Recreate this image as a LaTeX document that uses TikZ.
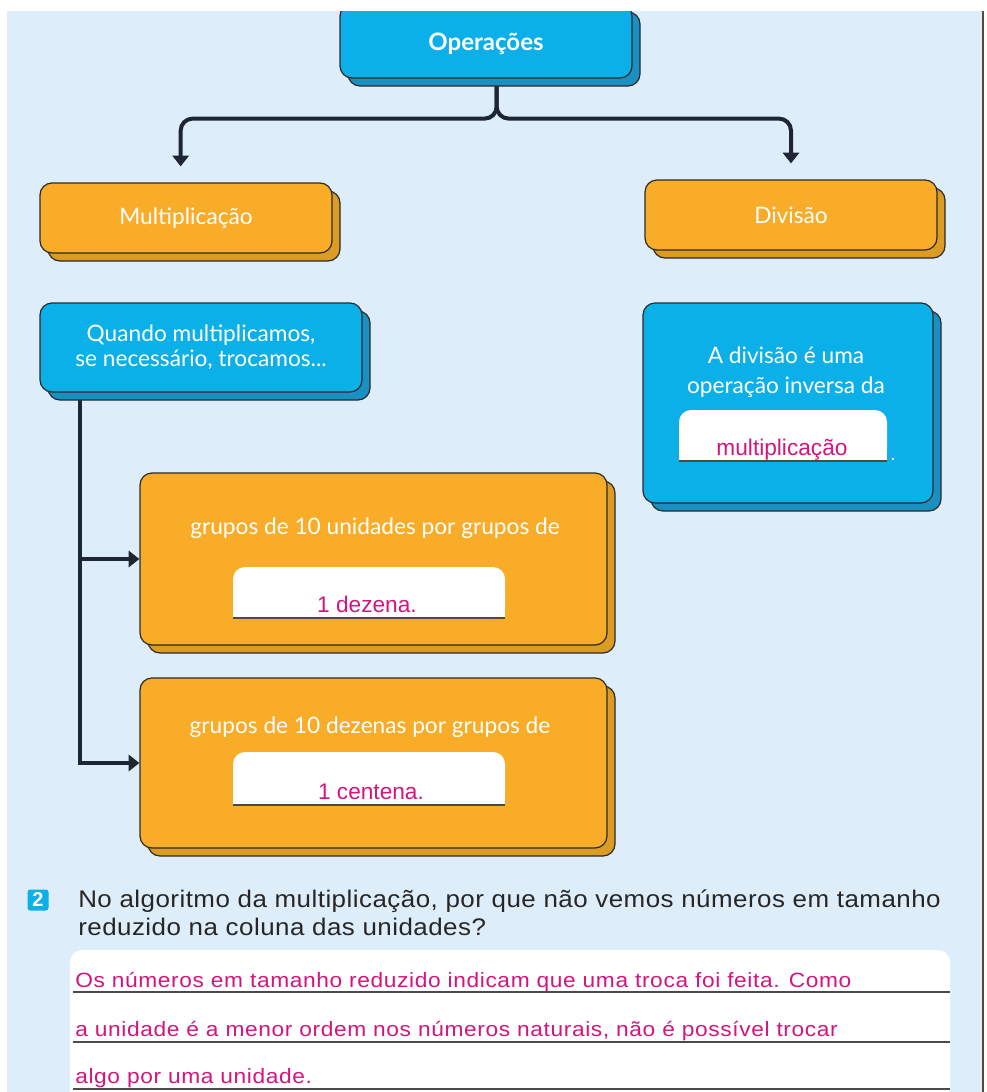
\documentclass[tikz,border=0pt]{standalone}
\usepackage{fontspec}
\setmainfont{Lato}
\newfontfamily\questfont[FakeStretch=1.08, LetterSpace=2]{Liberation Sans}
\newfontfamily\answerfont[FakeStretch=1.1, LetterSpace=3]{Liberation Sans}
\newfontfamily\fieldfont{Liberation Sans}
\usetikzlibrary{arrows.meta,shadows,positioning}

\definecolor{pagebg}{HTML}{DDEEFA}
\definecolor{cyanbox}{HTML}{0CB0E8}
\definecolor{cyanshade}{HTML}{1A8FC2}
\definecolor{orangebox}{HTML}{F8AC28}
\definecolor{orangeshade}{HTML}{DC9B22}
\definecolor{edge}{HTML}{2B2A2A}
\definecolor{linkline}{HTML}{1E2633}
\definecolor{answerpink}{HTML}{D3157E}
\definecolor{rulegray}{HTML}{4A4A4A}
\definecolor{framebrown}{HTML}{5B4A2E}

\pgfdeclarelayer{back}
\pgfdeclarelayer{links}
\pgfsetlayers{back,links,main}

\tikzset{
  bluebox/.style={draw=edge, line width=0.9pt, fill=cyanbox, rounded corners=9pt,
    text=white, font=\fontsize{17}{19}\selectfont,
    copy shadow={shadow xshift=6pt, shadow yshift=-6pt, fill=cyanshade, draw=edge}},
  orangebox/.style={draw=edge, line width=0.9pt, fill=orangebox, rounded corners=9pt,
    text=white, font=\fontsize{17}{19}\selectfont,
    copy shadow={shadow xshift=6pt, shadow yshift=-6pt, fill=orangeshade, draw=edge}},
  boxtext/.style={text=white, font=\fontsize{17}{22.5}\selectfont, align=center},
  fieldtext/.style={text=answerpink, font=\fieldfont\fontsize{17}{19}\selectfont, anchor=base},
  link/.style={draw=linkline, line width=3pt, -{Triangle[width=12pt,length=8pt]}},
  answerline/.style={text=answerpink, font=\answerfont\fontsize{15.5}{17}\selectfont,
    anchor=base west, inner sep=0pt}
}

\begin{document}
\begin{tikzpicture}[x=0.75pt, y=-0.75pt]
  \useasboundingbox (0,0) rectangle (986,1092);

  % page
  \begin{pgfonlayer}{back}
    \fill[pagebg] (7,0) rectangle (983,1092);
    \draw[framebrown, line width=1.5pt] (983,11) -- (983,1092);
  \end{pgfonlayer}

  % boxes
  \node[bluebox, minimum width=219pt, minimum height=55.5pt, text height=13.5pt, text depth=0pt,
    font=\fontsize{18}{20}\selectfont\bfseries] (ops) at (486,41) {Operações};
  \node[orangebox, minimum width=219pt, minimum height=52.5pt] (mult) at (186,218) {Multiplicação};
  \node[orangebox, minimum width=219pt, minimum height=52.5pt] (div) at (791,215) {Divisão};
  \node[bluebox, minimum width=241.5pt, minimum height=66.75pt, align=center,
    font=\fontsize{17}{18.75}\selectfont] (quando) at (201,347.5)
    {Quando multiplicamos,\\se necessário, trocamos...};
  \node[bluebox, minimum width=217.5pt, minimum height=150pt] (inversa) at (788,403) {};
  \node[orangebox, minimum width=350.25pt, minimum height=129pt] (dezena) at (373.5,559) {};
  \node[orangebox, minimum width=350.25pt, minimum height=127.5pt] (centena) at (373.5,763) {};

  % texts inside
  \node[boxtext] (invtxt) at (786,372) {A divisão é uma\\operação inversa da};
  \node[boxtext] (dztxt) at (375,528) {grupos de 10 unidades por grupos de};
  \node[boxtext] (cttxt) at (370,727) {grupos de 10 dezenas por grupos de};

  % white fields
  \fill[white, rounded corners=9pt] (233,567) rectangle (505,618);
  \fill[white] (233,590) rectangle (505,618);
  \draw[rulegray, line width=1pt] (233,618) -- (505,618);
  \node[fieldtext] (dzfield) at (367,612) {1 dezena.};

  \fill[white, rounded corners=9pt] (233,752) rectangle (505,805);
  \fill[white] (233,780) rectangle (505,805);
  \draw[rulegray, line width=1pt] (233,805) -- (505,805);
  \node[fieldtext] (ctfield) at (371,799) {1 centena.};

  \fill[white, rounded corners=9pt] (679,410) rectangle (887,461);
  \fill[white] (679,435) rectangle (887,461);
  \draw[rulegray, line width=1pt] (679,461) -- (887,461);
  \node[fieldtext] (invfield) at (782,455) {multiplicação};
  \node[text=white, font=\fieldfont\fontsize{14}{14}\selectfont, anchor=base] (dot) at (893,460) {.};

  % connectors
  \begin{pgfonlayer}{links}
    \draw[link, rounded corners=9pt, shorten >=12pt] ([xshift=8pt]ops.south) -- ++(0,40) -| ([xshift=-4pt]mult.north);
    \draw[link, rounded corners=9pt, shorten >=12pt] ([xshift=8pt]ops.south) -- ++(0,40) -| (div.north);
    \coordinate (trunk) at (80,392);
    \draw[link] (trunk) |- (centena.west);
    \draw[link] (trunk |- dezena.west) -- (dezena.west);
  \end{pgfonlayer}

  % question 2
  \node[fill=cyanbox, rounded corners=2pt, minimum size=15.75pt, inner sep=0pt,
    text=white, font=\fieldfont\bfseries\fontsize{15}{15}\selectfont] (num) at (38,900) {2};
  \node[anchor=base west, align=left, inner sep=0pt, text=black!85,
    font=\questfont\fontsize{18}{21}\selectfont] (question) at (78,935)
    {No algoritmo da multiplicação, por que não vemos números em tamanho\\reduzido na coluna das unidades?};

  % answer
  \fill[white, rounded corners=9pt] (70,950) rectangle (950,1110);
  \foreach \ly in {992,1042,1089}
    \draw[rulegray, line width=1.3pt] (73,\ly) -- (950,\ly);
  \node[answerline] (ans1) at (75,987) {Os números em tamanho reduzido indicam que uma troca foi feita. Como};
  \node[answerline] (ans2) at (75,1036) {a unidade é a menor ordem nos números naturais, não é possível trocar};
  \node[answerline] (ans3) at (75,1083) {algo por uma unidade.};

  % top strip
  \fill[white] (0,0) rectangle (986,11);
\end{tikzpicture}
\end{document}
